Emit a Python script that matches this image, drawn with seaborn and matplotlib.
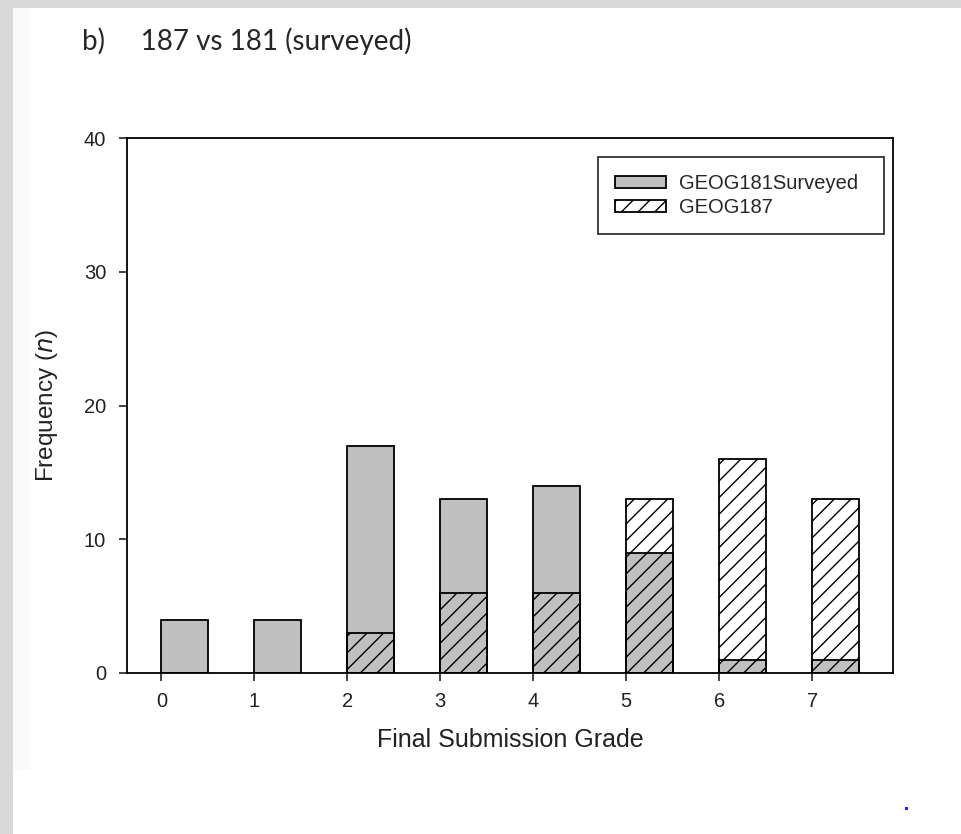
import numpy as np
import pandas as pd
import seaborn as sns
import matplotlib.pyplot as plt
from matplotlib.patches import Rectangle

# data
grades = [0, 1, 2, 3, 4, 5, 6, 7]
geog181_surveyed = [4, 4, 17, 13, 14, 9, 1, 1]
geog187 = [0, 0, 3, 6, 6, 13, 16, 13]

df = pd.DataFrame({'Grade': grades,
                   'GEOG181Surveyed': geog181_surveyed,
                   'GEOG187': geog187})

sns.set_style('ticks')
plt.rcParams['font.family'] = ['Liberation Sans', 'DejaVu Sans']
plt.rcParams['hatch.linewidth'] = 1.0

fig = plt.figure(figsize=(9.61, 8.34), dpi=100, facecolor='#d9d9d9')
# white page area (behind the axes)
fig.patches.append(Rectangle((13 / 961, 0), 1, (834 - 8) / 834, transform=fig.transFigure,
                             facecolor='white', edgecolor='none', zorder=-2))
fig.patches.append(Rectangle((13 / 961, (834 - 770) / 834), 17 / 961, (770 - 8) / 834,
                             transform=fig.transFigure, facecolor='#fafafa',
                             edgecolor='none', zorder=-1))

ax = fig.add_axes([127 / 961, (834 - 673) / 834, (893 - 127) / 961, (673 - 138) / 834])

sns.barplot(data=df, x='Grade', y='GEOG181Surveyed', color='#c0c0c0', saturation=1,
            edgecolor='black', linewidth=1.3, width=0.5, label='GEOG181Surveyed', ax=ax)
sns.barplot(data=df, x='Grade', y='GEOG187', color='white', saturation=1,
            edgecolor='black', linewidth=1.3, width=0.5, label='GEOG187', ax=ax)

# second set of bars: transparent with diagonal hatching
for bar in ax.containers[1]:
    bar.set_facecolor('none')
    bar.set_hatch('//')
    bar.set_edgecolor('black')

ax.set_xlim(-0.62, 7.62)
ax.set_ylim(0, 40)
ax.set_yticks([0, 10, 20, 30, 40])
ax.set_xticks(np.arange(len(grades)) - 0.25, labels=[str(g) for g in grades])
ax.tick_params(axis='both', direction='out', length=6, width=1.2, labelsize=14.5,
               colors='#222222')
ax.tick_params(axis='x', pad=8)
ax.tick_params(axis='y', pad=9)

for side in ['top', 'right', 'left', 'bottom']:
    ax.spines[side].set_visible(True)
    ax.spines[side].set_linewidth(1.3)
    ax.spines[side].set_color('black')

ax.set_xlabel('Final Submission Grade', fontsize=18, labelpad=12, color='#222222')
ax.set_ylabel('Frequency ($\\mathit{n}$)', fontsize=17.5, labelpad=17, color='#222222')

leg = ax.legend(loc='upper left', bbox_to_anchor=(0.615, 0, 0.373, 0.9645), mode='expand',
                borderaxespad=0, fontsize=14.5, frameon=True, fancybox=False,
                handlelength=2.5, handleheight=0.6, handletextpad=0.65,
                labelspacing=0.25, borderpad=0.85)
leg.get_frame().set_edgecolor('black')
leg.get_frame().set_linewidth(1.3)

fig.text(82 / 961, (834 - 50) / 834, 'b)     187 vs 181 (surveyed)',
         fontsize=20, family=['Lato', 'DejaVu Sans'], va='baseline', ha='left')

# small stray dot near the bottom right
fig.patches.append(Rectangle((905 / 961, (834 - 810) / 834), 3 / 961, 3 / 834,
                             transform=fig.transFigure, facecolor='#2020ff',
                             edgecolor='none'))

fig.savefig('out.png', dpi=100, facecolor=fig.get_facecolor())
